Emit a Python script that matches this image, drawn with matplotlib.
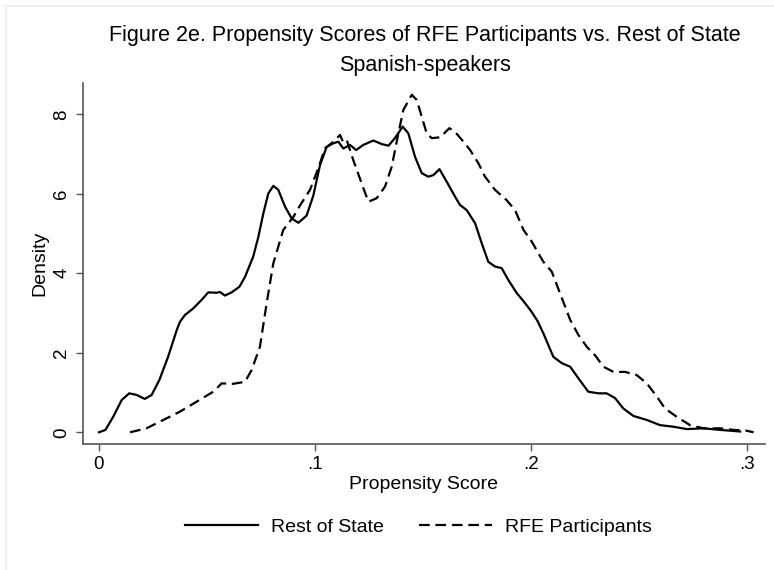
import matplotlib
matplotlib.use('Agg')
import matplotlib.pyplot as plt
from matplotlib.patches import Rectangle

plt.rcParams['font.family'] = ['Liberation Sans', 'DejaVu Sans']

# Rest of State (solid)
rest_x = [0.000, 0.003, 0.0066, 0.0105, 0.014, 0.0174, 0.0212, 0.0244, 0.028, 0.032,
          0.036, 0.0375, 0.0398, 0.0437, 0.0475, 0.0506, 0.0545, 0.056, 0.0583, 0.0614,
          0.065, 0.0676, 0.0714, 0.0738, 0.0761, 0.0784, 0.0807, 0.083, 0.0861, 0.0892,
          0.0923, 0.0961, 0.0992, 0.1023, 0.1054, 0.1085, 0.1108, 0.1131, 0.1162, 0.119,
          0.1224, 0.127, 0.1309, 0.134, 0.137, 0.1406, 0.1432, 0.1463, 0.1494, 0.1524,
          0.1548, 0.1576, 0.161, 0.1648, 0.1671, 0.1702, 0.1741, 0.1772, 0.1802, 0.1833,
          0.1864, 0.1895, 0.1934, 0.1965, 0.200, 0.203, 0.2057, 0.2103, 0.2142, 0.2181,
          0.2219, 0.2265, 0.2312, 0.235, 0.2389, 0.2427, 0.2474, 0.2536, 0.2597, 0.2659,
          0.2721, 0.2798, 0.2875, 0.2968]
rest_y = [0.00, 0.06, 0.39, 0.81, 0.98, 0.94, 0.84, 0.94, 1.32, 1.90,
          2.57, 2.78, 2.95, 3.12, 3.33, 3.52, 3.51, 3.53, 3.44, 3.52,
          3.66, 3.91, 4.42, 4.92, 5.51, 6.01, 6.20, 6.10, 5.68, 5.38,
          5.27, 5.45, 5.95, 6.72, 7.18, 7.27, 7.31, 7.14, 7.23, 7.10,
          7.23, 7.34, 7.25, 7.21, 7.40, 7.69, 7.52, 6.93, 6.52, 6.43,
          6.47, 6.62, 6.30, 5.93, 5.72, 5.59, 5.26, 4.75, 4.29, 4.17,
          4.13, 3.83, 3.50, 3.30, 3.05, 2.80, 2.49, 1.90, 1.74, 1.65,
          1.36, 1.02, 0.98, 0.98, 0.86, 0.60, 0.41, 0.31, 0.18, 0.14,
          0.08, 0.10, 0.06, 0.02]

# RFE Participants (dashed)
rfe_x = [0.0144, 0.022, 0.0298, 0.0375, 0.0452, 0.0529, 0.0568, 0.0622, 0.0676, 0.0707,
         0.0745, 0.0776, 0.0807, 0.0853, 0.090, 0.093, 0.0977, 0.1015, 0.1046, 0.1085,
         0.1116, 0.113, 0.1147, 0.1177, 0.1216, 0.1247, 0.1286, 0.1324, 0.1355, 0.1386,
         0.1409, 0.1448, 0.1471, 0.1494, 0.1517, 0.154, 0.1579, 0.1622, 0.1648, 0.1687,
         0.1718, 0.1756, 0.1787, 0.1833, 0.1887, 0.1926, 0.1965, 0.2003, 0.2034, 0.2057,
         0.2096, 0.2134, 0.2181, 0.2219, 0.2258, 0.2296, 0.2335, 0.2381, 0.2435, 0.2489,
         0.2536, 0.2582, 0.262, 0.2674, 0.2736, 0.2798, 0.2875, 0.2937, 0.2998, 0.303]
rfe_y = [0.00, 0.10, 0.31, 0.52, 0.77, 1.02, 1.23, 1.22, 1.27, 1.57,
         2.15, 3.24, 4.25, 5.09, 5.42, 5.70, 6.10, 6.64, 7.14, 7.31,
         7.48, 7.30, 7.35, 6.85, 6.26, 5.80, 5.89, 6.18, 6.68, 7.52,
         8.11, 8.49, 8.36, 7.94, 7.52, 7.40, 7.42, 7.65, 7.56, 7.31,
         7.10, 6.77, 6.43, 6.10, 5.84, 5.59, 5.09, 4.80, 4.50, 4.29,
         4.04, 3.50, 2.83, 2.45, 2.15, 1.94, 1.65, 1.52, 1.52, 1.44,
         1.23, 0.90, 0.60, 0.39, 0.18, 0.10, 0.10, 0.06, 0.04, 0.00]

x_ticks = [0, 0.1, 0.2, 0.3]
x_labels = ['0', '.1', '.2', '.3']
y_ticks = [0, 2, 4, 6, 8]

fig = plt.figure(figsize=(7.74, 5.70), dpi=100)
ax = fig.add_axes([0.1072, 0.2211, 0.8812, 0.6333])

# faint outer frame
fig.patches.append(Rectangle((6 / 774, -0.1), 1.2, 1 - 6 / 570 + 0.1, transform=fig.transFigure,
                             fill=False, edgecolor='#e6eff3', linewidth=1.2))

ax.plot(rest_x, rest_y, color='black', lw=1.6, label='Rest of State')
ax.plot(rfe_x, rfe_y, color='black', lw=1.6, ls=(0, (4.8, 2.6)), label='RFE Participants')

ax.set_xlim(-0.0074, 0.3083)
ax.set_ylim(-0.294, 8.787)
ax.set_xticks(x_ticks)
ax.set_xticklabels(x_labels)
ax.set_yticks(y_ticks)
ax.set_yticklabels([str(v) for v in y_ticks], rotation=90, va='center')

for s in ['top', 'right']:
    ax.spines[s].set_visible(False)
for s in ['left', 'bottom']:
    ax.spines[s].set_color('#555555')
    ax.spines[s].set_linewidth(1.2)
ax.tick_params(direction='out', length=5, width=1, color='#555555', labelsize=13.5, pad=4)

ax.set_xlabel('Propensity Score', fontsize=14, labelpad=2)
ax.set_ylabel('Density', fontsize=14, labelpad=4)

fig.text(0.5485, 1 - 36 / 570, 'Figure 2e. Propensity Scores of RFE Participants vs. Rest of State',
         ha='center', va='center', fontsize=15.5)
fig.text(0.5485, 1 - 65 / 570, 'Spanish-speakers', ha='center', va='center', fontsize=15.5)

fig.legend(loc='center', bbox_to_anchor=(0.541, 1 - 527 / 570), ncol=2, frameon=False,
           fontsize=14, handlelength=3.76, handletextpad=0.67, columnspacing=1.8)

fig.savefig('out.png', dpi=100)
